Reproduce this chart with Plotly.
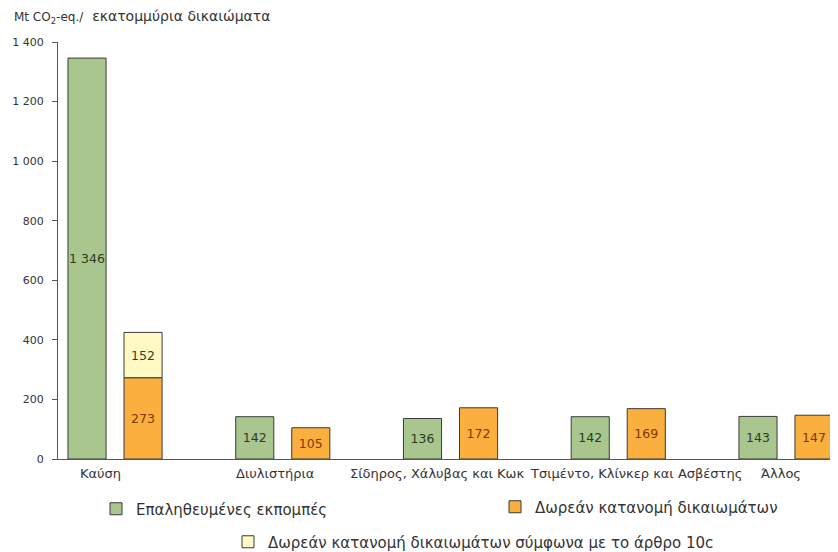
import plotly.graph_objects as go

categories = ["Καύση", "Διυλιστήρια", "Σίδηρος, Χάλυβας και Κωκ",
              "Τσιμέντο, Κλίνκερ και Ασβέστης", "Άλλος"]
verified = [1346, 142, 136, 142, 143]
free_alloc = [273, 105, 172, 169, 147]
free_10c = [152, None, None, None, None]
ytick_vals = [0, 200, 400, 600, 800, 1000, 1200, 1400]
ytick_text = ["0", "200", "400", "600", "800", "1 000", "1 200", "1 400"]

names = ["Επαληθευμένες εκπομπές", "Δωρεάν κατανομή δικαιωμάτων",
         "Δωρεάν κατανομή δικαιωμάτων σύμφωνα με το άρθρο 10c"]

# horizontal nudges of the category labels (pixels, style only)
label_shift = [-15, -8, -14, 18, -5]

# keep only categories with an article-10c value
c10 = [c for c, v in zip(categories, free_10c) if v is not None]
v10 = [v for v in free_10c if v is not None]
b10 = [b for b, v in zip(free_alloc, free_10c) if v is not None]


def fmt(v):
    return f"{v:,}".replace(",", " ")


FONT = "DejaVu Sans"
OFF = 8  # default page body margin
W, H = 838 - OFF, 552 - OFF
ML, MR, MT, MB = 58 - OFF, 0, 42 - OFF, 552 - 459
PW, PH = W - ML - MR, H - MT - MB


def cx(px):
    return (px - OFF) / W


def cy(py):
    return 1 - (py - OFF) / H


line = dict(color="#3a3a3a", width=1)
common = dict(textposition="inside", insidetextanchor="middle", textangle=0,
              constraintext="none", texttemplate="%{text}")

fig = go.Figure()
fig.add_trace(go.Bar(x=categories, y=verified, name=names[0], offsetgroup="a",
                     text=[fmt(v) for v in verified],
                     marker=dict(color="#A9C68E", line=line),
                     textfont=dict(family=FONT, size=12.5, color="#2e3a26"),
                     legend="legend", **common))
fig.add_trace(go.Bar(x=categories, y=free_alloc, name=names[1], offsetgroup="b",
                     text=[fmt(v) for v in free_alloc],
                     marker=dict(color="#FBAF3F", line=line),
                     textfont=dict(family=FONT, size=12.5, color="#7a3a05"),
                     legend="legend2", **common))
fig.add_trace(go.Bar(x=c10, y=v10, base=b10, name=names[2],
                     offsetgroup="b", text=[fmt(v) for v in v10],
                     marker=dict(color="#FFFAC4", line=line),
                     textfont=dict(family=FONT, size=12.5, color="#3a3a2a"),
                     legend="legend3", **common))

leg_common = dict(xref="container", yref="container", yanchor="middle",
                  xanchor="left", bgcolor="rgba(0,0,0,0)",
                  font=dict(family=FONT, size=15, color="#333333"))

annotations = [dict(
    text="<span style='font-size:12px'>Mt CO<sub>2</sub>-eq./</span>  εκατομμύρια δικαιώματα",
    xref="paper", yref="paper", x=(12 - 58) / PW, y=1 + (42 - 6) / PH,
    xanchor="left", yanchor="top", showarrow=False,
    font=dict(family=FONT, size=14, color="#333333"))]
for cat, sh in zip(categories, label_shift):
    annotations.append(dict(
        text=cat, x=cat, xref="x", y=0, yref="paper", xanchor="center",
        yanchor="top", xshift=sh, yshift=-5, showarrow=False,
        font=dict(family=FONT, size=13, color="#333333")))

fig.update_layout(
    width=W, height=H,
    margin=dict(l=ML, r=MR, t=MT, b=MB, autoexpand=False),
    paper_bgcolor="white", plot_bgcolor="white",
    barmode="group", bargap=0.332, bargroupgap=0.32,
    font=dict(family=FONT, size=12, color="#333333"),
    showlegend=True,
    legend=dict(x=cx(96), y=cy(509), **leg_common),
    legend2=dict(x=cx(495), y=cy(507), **leg_common),
    legend3=dict(x=cx(228), y=cy(542), **leg_common),
    xaxis=dict(type="category", categoryorder="array", categoryarray=categories,
               range=[-0.34, 4.31], showline=True, showticklabels=False,
               linecolor="#555555", linewidth=1, ticks="", showgrid=False),
    yaxis=dict(range=[0, 1400], tickvals=ytick_vals, ticktext=ytick_text,
               showline=True, linecolor="#555555", linewidth=1,
               ticks="outside", ticklen=5, tickcolor="#555555",
               ticklabelstandoff=6,
               showgrid=False, zeroline=False,
               tickfont=dict(family=FONT, size=11, color="#333333")),
    annotations=annotations,
)

fig.write_html("out.html")
